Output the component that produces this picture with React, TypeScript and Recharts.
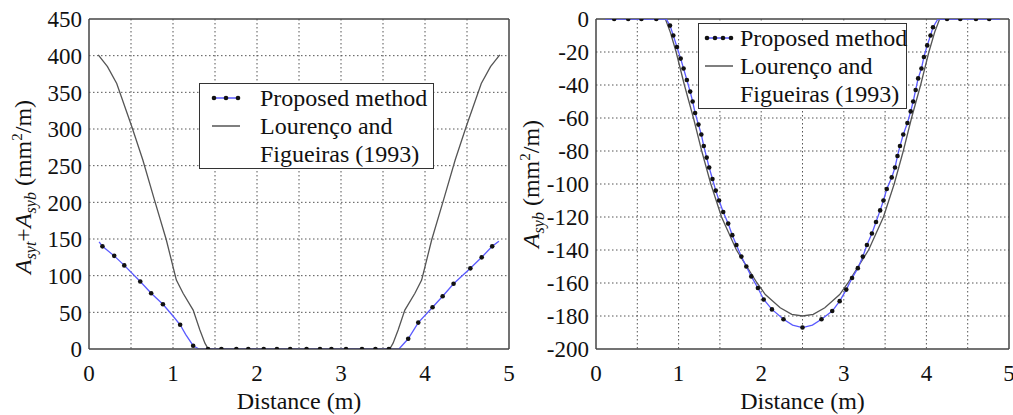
import { CartesianGrid, Legend, Line, LineChart, ReferenceLine, XAxis, YAxis } from 'recharts'

type Pt = { x: number; y: number; m?: number }

// left panel: Asyt + Asyb
const leftProposed: Pt[] = [
  { x: 0.12, y: 146 }, { x: 0.16, y: 140, m: 1 }, { x: 0.3, y: 127, m: 1 }, { x: 0.42, y: 114, m: 1 },
  { x: 0.61, y: 92, m: 1 }, { x: 0.74, y: 76, m: 1 }, { x: 0.88, y: 61, m: 1 }, { x: 1.0, y: 45 },
  { x: 1.085, y: 33, m: 1 }, { x: 1.15, y: 20 }, { x: 1.24, y: 4.5, m: 1 }, { x: 1.31, y: 0 },
  { x: 1.417, y: 0, m: 1 }, { x: 1.576, y: 0, m: 1 }, { x: 1.754, y: 0, m: 1 }, { x: 1.896, y: 0, m: 1 },
  { x: 2.08, y: 0, m: 1 }, { x: 2.237, y: 0, m: 1 }, { x: 2.395, y: 0, m: 1 }, { x: 2.59, y: 0, m: 1 },
  { x: 2.75, y: 0, m: 1 }, { x: 2.886, y: 0, m: 1 }, { x: 3.06, y: 0, m: 1 }, { x: 3.25, y: 0, m: 1 },
  { x: 3.41, y: 0, m: 1 }, { x: 3.57, y: 0, m: 1 }, { x: 3.69, y: 0 }, { x: 3.8, y: 14, m: 1 },
  { x: 3.92, y: 36, m: 1 }, { x: 4.09, y: 57, m: 1 }, { x: 4.21, y: 72, m: 1 }, { x: 4.34, y: 89, m: 1 },
  { x: 4.54, y: 110, m: 1 }, { x: 4.675, y: 125, m: 1 }, { x: 4.8, y: 140, m: 1 }, { x: 4.88, y: 147 },
]

const leftLourenco: Pt[] = [
  { x: 0.11, y: 401 }, { x: 0.22, y: 385 }, { x: 0.33, y: 362 }, { x: 0.51, y: 303 }, { x: 0.64, y: 258 },
  { x: 0.78, y: 203 }, { x: 0.92, y: 149 }, { x: 1.04, y: 94 }, { x: 1.12, y: 76 }, { x: 1.24, y: 53 },
  { x: 1.32, y: 26 }, { x: 1.38, y: 8 }, { x: 1.42, y: 0 }, { x: 3.58, y: 0 }, { x: 3.62, y: 8 },
  { x: 3.68, y: 26 }, { x: 3.76, y: 53 }, { x: 3.88, y: 76 }, { x: 3.96, y: 94 }, { x: 4.08, y: 149 },
  { x: 4.22, y: 203 }, { x: 4.36, y: 258 }, { x: 4.49, y: 303 }, { x: 4.67, y: 362 }, { x: 4.78, y: 385 },
  { x: 4.89, y: 401 },
]

// right panel: Asyb
const rightProposed: Pt[] = [
  { x: 0.11, y: 0 }, { x: 0.22, y: 0, m: 1 }, { x: 0.39, y: 0, m: 1 }, { x: 0.55, y: 0, m: 1 },
  { x: 0.73, y: 0, m: 1 }, { x: 0.85, y: 0 }, { x: 0.896, y: -4, m: 1 }, { x: 0.936, y: -10, m: 1 },
  { x: 0.98, y: -17, m: 1 }, { x: 1.025, y: -24, m: 1 }, { x: 1.06, y: -30, m: 1 }, { x: 1.1, y: -37, m: 1 },
  { x: 1.14, y: -44, m: 1 }, { x: 1.17, y: -50, m: 1 }, { x: 1.2, y: -57, m: 1 }, { x: 1.24, y: -64, m: 1 },
  { x: 1.275, y: -70, m: 1 }, { x: 1.305, y: -77, m: 1 }, { x: 1.34, y: -84, m: 1 }, { x: 1.37, y: -90, m: 1 },
  { x: 1.41, y: -97, m: 1 }, { x: 1.45, y: -104, m: 1 }, { x: 1.49, y: -110, m: 1 }, { x: 1.54, y: -117, m: 1 },
  { x: 1.6, y: -124, m: 1 }, { x: 1.65, y: -131, m: 1 }, { x: 1.7, y: -137, m: 1 }, { x: 1.76, y: -144, m: 1 },
  { x: 1.82, y: -150, m: 1 }, { x: 1.88, y: -156, m: 1 }, { x: 1.96, y: -163, m: 1 }, { x: 2.03, y: -170, m: 1 },
  { x: 2.13, y: -176, m: 1 }, { x: 2.27, y: -182, m: 1 }, { x: 2.38, y: -185.5 }, { x: 2.5, y: -187, m: 1 },
  { x: 2.62, y: -185.5 }, { x: 2.73, y: -182, m: 1 }, { x: 2.86, y: -177, m: 1 }, { x: 2.95, y: -171, m: 1 },
  { x: 3.03, y: -164, m: 1 }, { x: 3.1, y: -157, m: 1 }, { x: 3.17, y: -151, m: 1 }, { x: 3.23, y: -144, m: 1 },
  { x: 3.28, y: -137, m: 1 }, { x: 3.34, y: -130, m: 1 }, { x: 3.39, y: -123, m: 1 }, { x: 3.44, y: -116, m: 1 },
  { x: 3.48, y: -110, m: 1 }, { x: 3.52, y: -103, m: 1 }, { x: 3.58, y: -96, m: 1 }, { x: 3.62, y: -90, m: 1 },
  { x: 3.65, y: -83, m: 1 }, { x: 3.68, y: -77, m: 1 }, { x: 3.72, y: -70, m: 1 }, { x: 3.77, y: -63, m: 1 },
  { x: 3.81, y: -56, m: 1 }, { x: 3.84, y: -50, m: 1 }, { x: 3.87, y: -43, m: 1 }, { x: 3.9, y: -36, m: 1 },
  { x: 3.94, y: -30, m: 1 }, { x: 3.97, y: -23, m: 1 }, { x: 4.01, y: -16, m: 1 }, { x: 4.05, y: -10, m: 1 },
  { x: 4.08, y: -5, m: 1 }, { x: 4.14, y: 0 }, { x: 4.25, y: 0, m: 1 }, { x: 4.41, y: 0, m: 1 },
  { x: 4.6, y: 0, m: 1 }, { x: 4.76, y: 0, m: 1 }, { x: 4.89, y: 0 },
]

const rightLourenco: Pt[] = [
  { x: 0.11, y: 0 }, { x: 0.84, y: 0 }, { x: 0.9, y: -8 }, { x: 0.97, y: -20 }, { x: 1.07, y: -40 },
  { x: 1.18, y: -60 }, { x: 1.28, y: -80 }, { x: 1.39, y: -100 }, { x: 1.52, y: -120 }, { x: 1.7, y: -140 },
  { x: 1.95, y: -160 }, { x: 2.05, y: -167 }, { x: 2.23, y: -175 }, { x: 2.37, y: -179 }, { x: 2.5, y: -180 },
  { x: 2.63, y: -179 }, { x: 2.77, y: -175 }, { x: 2.95, y: -167 }, { x: 3.05, y: -160 }, { x: 3.3, y: -140 },
  { x: 3.48, y: -120 }, { x: 3.61, y: -100 }, { x: 3.72, y: -80 }, { x: 3.82, y: -60 }, { x: 3.93, y: -40 },
  { x: 4.03, y: -20 }, { x: 4.1, y: -8 }, { x: 4.16, y: 0 }, { x: 4.89, y: 0 },
]

const xTicks = [0, 1, 2, 3, 4, 5]
const xGrid = [0.5, 1, 1.5, 2, 2.5, 3, 3.5, 4, 4.5]
const leftYTicks = [0, 50, 100, 150, 200, 250, 300, 350, 400, 450]
const leftYGrid = [50, 100, 150, 200, 250, 300, 350, 400]
const rightYTicks = [-200, -180, -160, -140, -120, -100, -80, -60, -40, -20, 0]
const rightYGrid = [-180, -160, -140, -120, -100, -80, -60, -40, -20]

const legendLabels = ['Proposed method', 'Lourenço and', 'Figueiras (1993)']

const FONT = '"Liberation Serif", "Times New Roman", Times, serif'
const BLUE = '#5a5aff'
const GRAY = '#555'
const FRAME = '#444'

function XTick(props: any) {
  const { x, y, payload } = props
  return (
    <text x={x} y={y} dy="0.71em" textAnchor="middle" fill="#111" style={{ fontFamily: FONT, fontSize: 23 }}>
      {payload?.value}
    </text>
  )
}

function YTick(props: any) {
  const { x, y, payload } = props
  return (
    <text x={x} y={y} dy="0.36em" textAnchor="end" fill="#111" style={{ fontFamily: FONT, fontSize: 23 }}>
      {payload?.value}
    </text>
  )
}

function markerDot(props: any) {
  const { cx, cy, payload, index } = props
  if (!payload?.m) return <g key={`d${index}`} />
  return <circle key={`d${index}`} cx={cx} cy={cy} r={2.3} fill="#111" />
}

function LegendBox({ lineX, textX, width, dots }: { lineX: number; textX: number; width: number; dots: number }) {
  const lineW = 28
  return (
    <div
      style={{
        width,
        border: '1.5px solid #333',
        background: '#fff',
        fontFamily: FONT,
        fontSize: 24,
        lineHeight: '28px',
        color: '#111',
        position: 'relative',
        boxSizing: 'border-box',
      }}
    >
      <svg width={width} height={56} style={{ position: 'absolute', left: 0, top: 0 }}>
        <line x1={lineX} x2={lineX + lineW} y1={14} y2={14} stroke={BLUE} strokeWidth={1.5} />
        {Array.from({ length: dots }).map((_, i) => (
          <circle key={i} cx={lineX + 2 + (i * (lineW - 4)) / (dots - 1)} cy={14} r={2.3} fill="#111" />
        ))}
        <line x1={lineX} x2={lineX + lineW} y1={42} y2={42} stroke={GRAY} strokeWidth={1.5} />
      </svg>
      {legendLabels.map((t) => (
        <div key={t} style={{ paddingLeft: textX, whiteSpace: 'nowrap' }}>
          {t}
        </div>
      ))}
    </div>
  )
}

function yLabel(kind: 'sum' | 'bottom', dx: number) {
  return (props: any) => {
    const vb = props.viewBox || { x: 0, y: 0, width: 0, height: 0 }
    const x = vb.x + dx
    const y = vb.y + vb.height / 2 + (kind === 'sum' ? 3 : 0)
    return (
      <text
        x={x}
        y={y}
        transform={`rotate(-90 ${x} ${y})`}
        textAnchor="middle"
        fill="#111"
        style={{ fontFamily: FONT, fontSize: 24 }}
      >
        <tspan fontStyle="italic">A</tspan>
        <tspan fontStyle="italic" fontSize={16} dy={5}>
          {kind === 'sum' ? 'syt' : 'syb'}
        </tspan>
        {kind === 'sum' && (
          <>
            <tspan dy={-5}>+</tspan>
            <tspan fontStyle="italic">A</tspan>
            <tspan fontStyle="italic" fontSize={16} dy={5}>
              syb
            </tspan>
          </>
        )}
        <tspan dy={-5}> (mm</tspan>
        <tspan fontSize={15} dy={-9}>
          2
        </tspan>
        <tspan dy={9}>/m)</tspan>
      </text>
    )
  }
}

function Panel({
  width,
  yWidth,
  rightMargin,
  domain,
  yTicks,
  yGrid,
  proposed,
  lourenco,
  kind,
  labelDx,
  legend,
}: {
  width: number
  yWidth: number
  rightMargin: number
  domain: [number, number]
  yTicks: number[]
  yGrid: number[]
  proposed: Pt[]
  lourenco: Pt[]
  kind: 'sum' | 'bottom'
  labelDx: number
  legend: { left: number; top: number; width: number; lineX: number; textX: number; dots: number }
}) {
  return (
    <LineChart width={width} height={415} margin={{ top: 19, right: rightMargin, bottom: 0, left: 0 }}>
      <CartesianGrid
        stroke="#555"
        strokeDasharray="1.5 2.5"
        strokeWidth={1}
        verticalValues={xGrid}
        horizontalValues={yGrid}
      />
      <XAxis
        type="number"
        dataKey="x"
        domain={[0, 5]}
        ticks={xTicks}
        allowDataOverflow
        height={66}
        tickLine={false}
        tickSize={6}
        tickMargin={10}
        axisLine={{ stroke: FRAME, strokeWidth: 1.5 }}
        tick={<XTick />}
        label={{
          value: 'Distance (m)',
          position: 'insideBottom',
          offset: 6,
          style: { fill: '#111', fontSize: 24, fontFamily: FONT },
        }}
      />
      <YAxis
        type="number"
        domain={domain}
        ticks={yTicks}
        allowDataOverflow
        interval={0}
        width={yWidth}
        tickLine={false}
        tickSize={6}
        tickMargin={1}
        axisLine={{ stroke: FRAME, strokeWidth: 1.5 }}
        tick={<YTick />}
        label={{ content: yLabel(kind, labelDx) }}
      />
      <ReferenceLine y={domain[1]} stroke={FRAME} strokeWidth={1.5} />
      <ReferenceLine x={5} stroke={FRAME} strokeWidth={1.5} />
      <Line
        data={lourenco}
        type="linear"
        dataKey="y"
        stroke={GRAY}
        strokeWidth={1.3}
        dot={false}
        activeDot={false}
        isAnimationActive={false}
      />
      <Line
        data={proposed}
        type="linear"
        dataKey="y"
        stroke={BLUE}
        strokeWidth={1.3}
        dot={markerDot}
        activeDot={false}
        isAnimationActive={false}
      />
      <Legend
        layout="horizontal"
        verticalAlign="middle"
        align="center"
        wrapperStyle={{ left: legend.left, top: legend.top, width: legend.width }}
        content={() => (
          <LegendBox lineX={legend.lineX} textX={legend.textX} width={legend.width} dots={legend.dots} />
        )}
      />
    </LineChart>
  )
}

export default function App() {
  return (
    <div style={{ position: 'absolute', left: 0, top: 0, width: 1013, height: 415, background: '#fff' }}>
      <div style={{ position: 'absolute', left: 0, top: 0 }}>
        <Panel
          width={515}
          yWidth={89}
          rightMargin={6}
          domain={[0, 450]}
          yTicks={leftYTicks}
          yGrid={leftYGrid}
          proposed={leftProposed}
          lourenco={leftLourenco}
          kind="sum"
          labelDx={31}
          legend={{ left: 199, top: 83, width: 235, lineX: 12, textX: 60, dots: 3 }}
        />
      </div>
      <div style={{ position: 'absolute', left: 510, top: 0 }}>
        <Panel
          width={503}
          yWidth={86}
          rightMargin={4}
          domain={[-200, 0]}
          yTicks={rightYTicks}
          yGrid={rightYGrid}
          proposed={rightProposed}
          lourenco={rightLourenco}
          kind="bottom"
          labelDx={29}
          legend={{ left: 188, top: 23, width: 209, lineX: 6, textX: 41, dots: 4 }}
        />
      </div>
    </div>
  )
}
